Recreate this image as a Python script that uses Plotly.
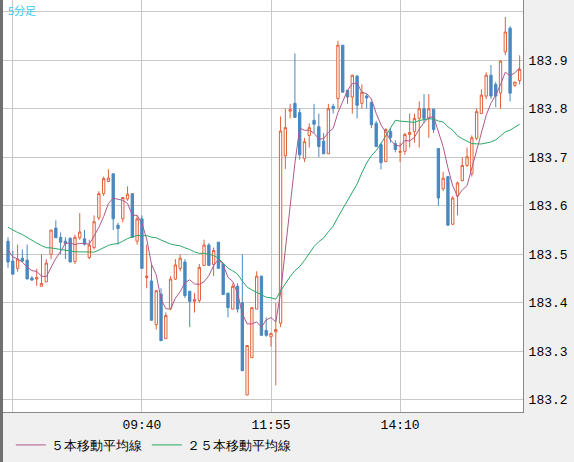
import plotly.graph_objects as go
import pandas as pd

# 5-minute candles, 07:20 .. 16:15
opens = [183.527, 183.486, 183.471, 183.492, 183.488, 183.451, 183.449, 183.434, 183.443, 183.500,
         183.554, 183.535, 183.527, 183.533, 183.485, 183.534, 183.532, 183.493, 183.514, 183.575,
         183.625, 183.650, 183.666, 183.560, 183.573, 183.614, 183.625, 183.527, 183.573, 183.452,
         183.445, 183.355, 183.418, 183.326, 183.389, 183.449, 183.471, 183.484, 183.424, 183.403,
         183.405, 183.477, 183.519, 183.479, 183.525, 183.480, 183.420, 183.387, 183.434, 183.400,
         183.210, 183.287, 183.387, 183.455, 183.343, 183.330, 183.340, 183.358, 183.703, 183.795,
         183.811, 183.792, 183.697, 183.745, 183.776, 183.763, 183.733, 183.707, 183.805, 183.821,
         183.931, 183.838, 183.824, 183.867, 183.811, 183.826, 183.813, 183.770, 183.726, 183.691,
         183.753, 183.728, 183.710, 183.712, 183.747, 183.753, 183.780, 183.800, 183.780, 183.799,
         183.718, 183.635, 183.660, 183.562, 183.620, 183.652, 183.683, 183.666, 183.739, 183.790,
         183.826, 183.869, 183.850, 183.832, 183.917, 183.966, 183.848, 183.858]
highs = [183.535, 183.507, 183.520, 183.510, 183.520, 183.455, 183.470, 183.500, 183.490, 183.550,
         183.570, 183.545, 183.535, 183.535, 183.540, 183.585, 183.550, 183.530, 183.580, 183.630,
         183.660, 183.675, 183.666, 183.565, 183.617, 183.640, 183.625, 183.580, 183.580, 183.520,
         183.480, 183.425, 183.430, 183.380, 183.455, 183.490, 183.500, 183.490, 183.424, 183.420,
         183.480, 183.530, 183.523, 183.514, 183.525, 183.480, 183.420, 183.440, 183.440, 183.500,
         183.312, 183.390, 183.465, 183.455, 183.370, 183.337, 183.400, 183.784, 183.800, 183.810,
         183.914, 183.800, 183.740, 183.770, 183.810, 183.790, 183.750, 183.810, 183.810, 183.940,
         183.931, 183.838, 183.870, 183.870, 183.850, 183.830, 183.815, 183.775, 183.730, 183.760,
         183.760, 183.735, 183.730, 183.750, 183.790, 183.790, 183.815, 183.830, 183.830, 183.800,
         183.718, 183.670, 183.660, 183.620, 183.650, 183.700, 183.720, 183.745, 183.800, 183.840,
         183.875, 183.890, 183.855, 183.900, 183.989, 183.970, 183.855, 183.910]
lows = [183.472, 183.459, 183.464, 183.484, 183.449, 183.445, 183.435, 183.434, 183.443, 183.490,
        183.534, 183.500, 183.490, 183.484, 183.480, 183.530, 183.518, 183.490, 183.510, 183.570,
        183.620, 183.650, 183.550, 183.520, 183.566, 183.610, 183.535, 183.520, 183.471, 183.430,
        183.364, 183.345, 183.322, 183.326, 183.385, 183.447, 183.465, 183.410, 183.350, 183.380,
        183.400, 183.477, 183.477, 183.455, 183.471, 183.417, 183.370, 183.387, 183.380, 183.260,
        183.210, 183.287, 183.387, 183.333, 183.330, 183.310, 183.230, 183.350, 183.676, 183.780,
        183.782, 183.695, 183.690, 183.720, 183.750, 183.700, 183.707, 183.707, 183.790, 183.800,
        183.834, 183.810, 183.790, 183.780, 183.800, 183.800, 183.760, 183.722, 183.675, 183.690,
        183.730, 183.710, 183.690, 183.705, 183.720, 183.730, 183.720, 183.770, 183.740, 183.750,
        183.600, 183.630, 183.560, 183.560, 183.580, 183.650, 183.680, 183.660, 183.735, 183.790,
        183.820, 183.820, 183.803, 183.800, 183.910, 183.815, 183.845, 183.850]
closes = [183.484, 183.459, 183.490, 183.486, 183.449, 183.447, 183.452, 183.440, 183.482, 183.550,
          183.534, 183.525, 183.522, 183.484, 183.535, 183.546, 183.521, 183.519, 183.567, 183.625,
          183.656, 183.657, 183.573, 183.553, 183.617, 183.624, 183.535, 183.573, 183.471, 183.455,
          183.364, 183.425, 183.322, 183.374, 183.449, 183.478, 183.492, 183.415, 183.403, 183.407,
          183.473, 183.519, 183.477, 183.508, 183.471, 183.417, 183.390, 183.434, 183.387, 183.260,
          183.312, 183.390, 183.455, 183.333, 183.333, 183.337, 183.345, 183.754, 183.761, 183.798,
          183.782, 183.705, 183.732, 183.761, 183.768, 183.722, 183.707, 183.800, 183.800, 183.931,
          183.834, 183.824, 183.869, 183.807, 183.834, 183.822, 183.767, 183.722, 183.689, 183.757,
          183.741, 183.716, 183.712, 183.747, 183.751, 183.780, 183.800, 183.780, 183.800, 183.757,
          183.616, 183.657, 183.560, 183.616, 183.647, 183.683, 183.701, 183.740, 183.794, 183.828,
          183.869, 183.826, 183.826, 183.898, 183.958, 183.832, 183.855, 183.881]
# closes of the 24 candles before the window (for the 25-bar average)
prior_closes = [183.60, 183.62, 183.59, 183.61, 183.58, 183.60, 183.57, 183.59, 183.56, 183.58,
                183.55, 183.57, 183.54, 183.56, 183.55, 183.53, 183.55, 183.54, 183.52, 183.54,
                183.53, 183.51, 183.52, 183.50]

t0 = pd.Timestamp("2024-01-05 07:20")
times = pd.date_range(t0, periods=len(closes), freq="5min")

all_c = pd.Series(prior_closes + closes)
ma5 = all_c.rolling(5).mean().iloc[len(prior_closes):].values
ma25 = all_c.rolling(25).mean().iloc[len(prior_closes):].values

fig = go.Figure()
fig.add_trace(go.Candlestick(
    x=times, open=opens, high=highs, low=lows, close=closes,
    increasing=dict(line=dict(color="#e0603a", width=1), fillcolor="white"),
    decreasing=dict(line=dict(color="#4a88c0", width=1), fillcolor="#4a88c0"),
    showlegend=False, hoverinfo="skip"))
fig.add_trace(go.Scatter(x=times, y=ma5, mode="lines", name="５本移動平均線",
                         line=dict(color="#b0588a", width=1)))
fig.add_trace(go.Scatter(x=times, y=ma25, mode="lines", name="２５本移動平均線",
                         line=dict(color="#2aa866", width=1)))

step = pd.Timedelta(minutes=5)
tickvals = [pd.Timestamp("2024-01-05 07:25"), pd.Timestamp("2024-01-05 09:40"),
            pd.Timestamp("2024-01-05 11:55"), pd.Timestamp("2024-01-05 14:10")]
ticktext = ["", "09:40", "11:55", "14:10"]
yvals = [183.2, 183.3, 183.4, 183.5, 183.6, 183.7, 183.8, 183.9, 184.0]
ytext = ["183.2", "183.3", "183.4", "183.5", "183.6", "183.7", "183.8", "183.9", ""]

fig.update_layout(
    width=574, height=462,
    margin=dict(l=3, r=51, t=0, b=50, autoexpand=False),
    paper_bgcolor="#f0f0f0", plot_bgcolor="white",
    font=dict(family="Liberation Mono", size=13, color="black"),
    showlegend=True,
    legend=dict(orientation="h", x=0.015, xanchor="left", y=-0.08, yanchor="middle",
                bgcolor="rgba(0,0,0,0)", font=dict(size=13), itemwidth=30),
    xaxis=dict(type="date", range=[t0 - step * 1.05, t0 + step * 107.7],
               tickvals=tickvals, ticktext=ticktext, showgrid=True, gridcolor="#c8c8c8",
               rangeslider=dict(visible=False), ticks="", showline=True, linecolor="#888",
               mirror=True, zeroline=False, automargin=False),
    yaxis=dict(side="right", range=[183.175, 184.024], tickvals=yvals, ticktext=ytext,
               showgrid=True, gridcolor="#c8c8c8", ticks="", showline=True, linecolor="#888",
               mirror=True, zeroline=False, automargin=False, ticklabelstandoff=2),
    annotations=[dict(text="5分足", xref="paper", yref="paper", x=0.005, y=1.0,
                      xanchor="left", yanchor="top", showarrow=False,
                      font=dict(family="Noto Sans CJK JP", size=11, color="#3cc8f0"))],
    shapes=[dict(type="rect", xref="paper", yref="paper", x0=-0.006, x1=0, y0=-0.125, y1=1,
                 fillcolor="#707070", line=dict(width=0))],
)

fig.write_html("out.html", config={"displayModeBar": False},
               post_script="document.body.style.margin='0';")
